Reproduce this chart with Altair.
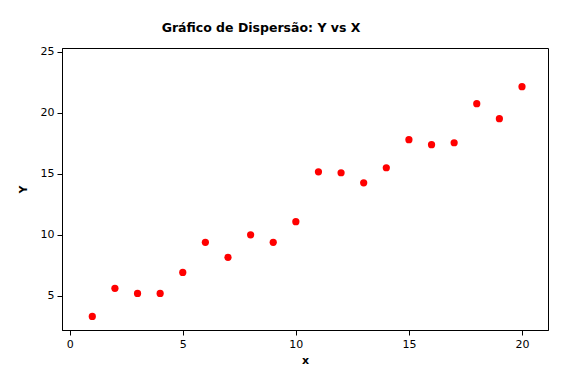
import altair as alt
import pandas as pd

x_vals = list(range(1, 21))
y_vals = [3.31, 5.61, 5.20, 5.20, 6.92, 9.38, 8.15, 10.0, 9.38, 11.07,
          15.16, 15.08, 14.26, 15.49, 17.79, 17.38, 17.54, 20.74, 19.51, 22.13]
x_ticks = [0, 5, 10, 15, 20]
y_ticks = [5, 10, 15, 20, 25]

df = pd.DataFrame({"x": x_vals, "Y": y_vals})

font = "DejaVu Sans"

chart = alt.Chart(df).mark_circle(size=52, color="#ff0000", opacity=1).encode(
    x=alt.X("x:Q", title="x",
            scale=alt.Scale(domain=[-0.34, 21.15], nice=False, zero=False),
            axis=alt.Axis(values=x_ticks, grid=False, tickSize=5, labelPadding=3,
                          titlePadding=5, domainColor="black", tickColor="black",
                          labelColor="black", titleColor="black",
                          labelFont=font, titleFont=font, labelFontSize=11,
                          titleFontSize=11)),
    y=alt.Y("Y:Q", title="Y",
            scale=alt.Scale(domain=[2.2, 25.3], nice=False, zero=False),
            axis=alt.Axis(values=y_ticks, grid=False, tickSize=5, labelPadding=3,
                          titlePadding=12, domainColor="black", tickColor="black",
                          labelColor="black", titleColor="black",
                          labelFont=font, titleFont=font, labelFontSize=11,
                          titleFontSize=11)),
).properties(
    width=486,
    height=282,
    background="white",
    title=alt.TitleParams("Gráfico de Dispersão: Y vs X", font=font, fontSize=12.5,
                          fontWeight="bold", color="black", dx=-44, offset=11),
    autosize=alt.AutoSizeParams(type="none"),
    padding={"left": 54, "top": 40, "right": 15, "bottom": 40},
).configure_view(stroke="black", strokeWidth=1)

chart.save("out.html", embed_options={"renderer": "svg", "actions": False})
